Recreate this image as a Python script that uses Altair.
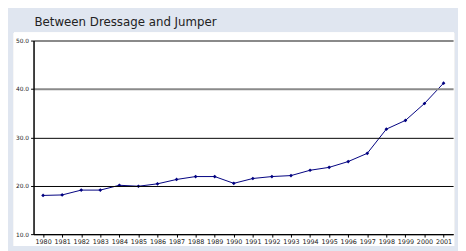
import altair as alt
import pandas as pd

years = [str(y) for y in range(1980, 2002)]
values = [18.0, 18.1, 19.1, 19.1, 20.1, 19.9, 20.4, 21.3, 21.9, 21.9, 20.5,
          21.5, 21.9, 22.1, 23.2, 23.8, 25.0, 26.7, 31.7, 33.5, 37.0, 41.2]
y_ticks = [10, 20, 30, 40, 50]

df = pd.DataFrame({"year": years, "value": values})

W, H = 427, 197

panel = alt.Chart(df).mark_rect(fill="white", stroke=None).encode(
    x=alt.value(-20), x2=alt.value(W + 1), y=alt.value(-8), y2=alt.value(H + 12)
)

base = alt.Chart(df).encode(
    x=alt.X("year:N", sort=years, title=None,
            scale=alt.Scale(paddingInner=0, paddingOuter=0),
            axis=alt.Axis(labelAngle=0, labelFontSize=6.5, labelColor="#222",
                          labelFont="DejaVu Sans", labelPadding=2,
                          tickSize=3, tickColor="black", bandPosition=0,
                          domainColor="black", domainWidth=1.5, grid=False, zindex=1)),
    y=alt.Y("value:Q", title=None,
            scale=alt.Scale(domain=[10, 50], nice=False, zero=False),
            axis=alt.Axis(values=y_ticks, format=".1f", labelFontSize=6,
                          labelColor="#222", labelFont="DejaVu Sans",
                          tickSize=3, tickColor="black", labelPadding=2,
                          domainColor="black", domainWidth=1.5, zindex=1,
                          gridColor=alt.condition("datum.value >= 40", alt.value("#8a8a8a"), alt.value("black")),
                          gridWidth=alt.condition("datum.value >= 40", alt.value(2), alt.value(1)))),
)

line = base.mark_line(color="#000080", strokeWidth=1)
pts = base.mark_point(shape="diamond", filled=True, color="#000080", size=14, opacity=1)

chart = alt.layer(panel, line, pts).properties(
    width=W, height=H,
    title=alt.Title("Between Dressage and Jumper", anchor="start", frame="group",
                    font="DejaVu Sans", fontSize=12, fontWeight="normal",
                    color="#222", offset=4, dx=1),
    background="#e0e6f0",
    padding={"left": 26, "top": 31, "right": 5, "bottom": 15},
    autosize=alt.AutoSizeParams(type="none"),
).configure_view(stroke="#8a8a8a", strokeWidth=1.5)

chart.save("out.html", embed_options={"renderer": "svg", "actions": False})
